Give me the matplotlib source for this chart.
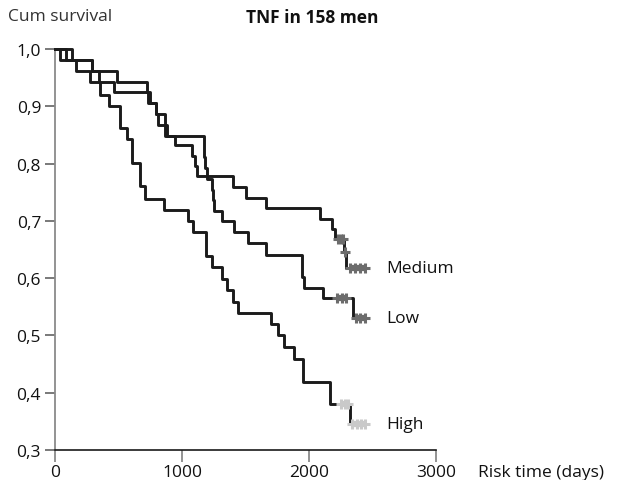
import matplotlib
matplotlib.use("Agg")
import matplotlib.pyplot as plt
import numpy as np

plt.rcParams['font.family'] = ['Open Sans', 'DejaVu Sans']

# Kaplan-Meier step data (time in days, cumulative survival after each drop)
high_t = [0, 42, 165, 278, 357, 422, 510, 567, 606, 672, 711, 855, 1047, 1087,
          1191, 1236, 1315, 1354, 1402, 1441, 1701, 1753, 1800, 1879, 1953, 2162, 2320]
high_s = [1.0, 0.981, 0.962, 0.942, 0.920, 0.901, 0.862, 0.843, 0.801, 0.760, 0.739,
          0.719, 0.700, 0.681, 0.639, 0.619, 0.599, 0.580, 0.558, 0.540, 0.520, 0.500,
          0.480, 0.459, 0.419, 0.380, 0.346]
high_cens_t = [2255, 2285, 2310, 2340, 2375, 2410, 2440]
high_cens_s = [0.380, 0.380, 0.380, 0.346, 0.346, 0.346, 0.346]

low_t = [0, 136, 291, 488, 724, 750, 798, 869, 884, 1170, 1182, 1197, 1239, 1244,
         1249, 1315, 1406, 1522, 1664, 1945, 1958, 2110, 2346]
low_s = [1.0, 0.981, 0.962, 0.943, 0.925, 0.905, 0.886, 0.868, 0.849, 0.811, 0.792,
         0.773, 0.754, 0.736, 0.718, 0.699, 0.680, 0.661, 0.641, 0.602, 0.582, 0.565, 0.530]
low_cens_t = [2220, 2260, 2295, 2370, 2405, 2440]
low_cens_s = [0.565, 0.565, 0.565, 0.530, 0.530, 0.530]

med_t = [0, 89, 291, 349, 461, 735, 798, 813, 869, 947, 1079, 1099, 1118,
         1402, 1506, 1664, 2089, 2181, 2207, 2275, 2295]
med_s = [1.0, 0.981, 0.962, 0.943, 0.925, 0.905, 0.886, 0.868, 0.849, 0.832, 0.814,
         0.796, 0.778, 0.759, 0.740, 0.722, 0.703, 0.686, 0.668, 0.645, 0.617]
med_cens_t = [2225, 2250, 2270, 2285, 2325, 2360, 2400, 2440]
med_cens_s = [0.668, 0.668, 0.668, 0.645, 0.617, 0.617, 0.617, 0.617]

groups = ["Medium", "Low", "High"]
x_ticks = [0, 1000, 2000, 3000]
y_ticks = [0.3, 0.4, 0.5, 0.6, 0.7, 0.8, 0.9, 1.0]

FS = 12.5

fig = plt.figure(figsize=(6.21, 4.81), dpi=100)
ax = fig.add_axes([55 / 621, 30 / 481, 381 / 621, 401 / 481])

curves = [
    (med_t, med_s, med_cens_t, med_cens_s, "#6c6c6c"),
    (low_t, low_s, low_cens_t, low_cens_s, "#6c6c6c"),
    (high_t, high_s, high_cens_t, high_cens_s, "#c9c9c9"),
]

for name, (t, s, ct, cs, ccol) in zip(groups, curves):
    t_end = max(max(ct), t[-1])
    tt = list(t) + [t_end]
    ss = list(s) + [s[-1]]
    ax.step(tt, ss, where="post", color="#1b1b1b", lw=2.1, clip_on=False, zorder=3)
    # censored observations: merged bars per level plus '+' ticks
    ct = np.asarray(ct)
    cs = np.asarray(cs)
    for lvl in np.unique(cs):
        sel = ct[cs == lvl]
        if len(sel) > 1:
            ax.plot([sel.min(), sel.max()], [lvl, lvl], color=ccol, lw=4.5,
                    solid_capstyle="butt", zorder=4)
    ax.plot(ct, cs, ls="none", marker="+", ms=7, mew=2.2, color=ccol, zorder=5)
    ax.text(2610, s[-1], name, fontsize=FS, va="center", ha="left", color="#111111")

ax.set_xlim(0, 3000)
ax.set_ylim(0.3, 1.0)
ax.set_xticks(x_ticks)
ax.set_xticklabels([str(v) for v in x_ticks], fontsize=FS)
ax.set_yticks(y_ticks)
ax.set_yticklabels([f"{v:.1f}".replace(".", ",") for v in y_ticks], fontsize=FS)

for side in ("top", "right"):
    ax.spines[side].set_visible(False)
ax.spines["left"].set_color("#8a8a8a")
ax.spines["left"].set_linewidth(1.3)
ax.spines["bottom"].set_color("#1a1a1a")
ax.spines["bottom"].set_linewidth(1.2)
ax.tick_params(axis="y", direction="out", length=7.5, width=1.1, color="#555555",
               pad=2.5, labelcolor="#111111")
ax.tick_params(axis="x", direction="out", length=8.5, width=1.3, color="#8a8a8a",
               pad=1.5, labelcolor="#111111")

fig.text(8 / 621, 1 - 17 / 481, "Cum survival", fontsize=FS, va="center",
         ha="left", color="#333333")
fig.text(246 / 621, 1 - 18 / 481, "TNF in 158 men", fontsize=FS, fontweight="bold",
         va="center", ha="left", color="#111111")
fig.text(478 / 621, 1 - 473 / 481, "Risk time (days)", fontsize=FS, va="center",
         ha="left", color="#111111")

fig.savefig("out.png", dpi=100)
